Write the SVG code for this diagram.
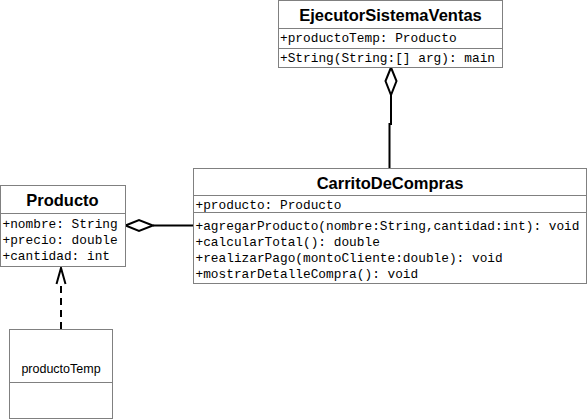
<svg xmlns="http://www.w3.org/2000/svg" width="588" height="420" viewBox="0 0 588 420">
<style>
.box{fill:#fff;stroke:#808080;stroke-width:1}
.sep{stroke:#808080;stroke-width:1}
.title{font-family:"Liberation Sans",Arial,sans-serif;font-weight:bold;font-size:16.5px;text-anchor:middle;fill:#000}
.mono{font-family:"Liberation Mono","Courier New",monospace;font-size:12.8px;fill:#000}
.plain{font-family:"Liberation Sans",Arial,sans-serif;font-size:12.5px;text-anchor:middle;fill:#000}
.edge{fill:none;stroke:#000;stroke-width:2}
</style>
<rect width="588" height="420" fill="#fff"/>
<g id="connectors">
  <path class="edge" d="M391,95 V124 H389.5 V168"/>
  <path class="edge" d="M391,67.5 L385.5,81 L391,95 L396.5,81 Z"/>
  <path class="edge" d="M153,225.5 H193"/>
  <path class="edge" d="M125.5,225.5 L139,220 L153,225.5 L139,231 Z"/>
  <path class="edge" d="M61,329 V285" stroke-dasharray="7,5"/>
  <path class="edge" d="M56.5,284 L61,268 L65.5,284"/>
</g>
<g id="EjecutorSistemaVentas">
  <rect class="box" x="278.5" y="0.5" width="224" height="67"/>
  <line class="sep" x1="278.5" y1="28.5" x2="502.5" y2="28.5"/>
  <line class="sep" x1="278.5" y1="48.5" x2="502.5" y2="48.5"/>
  <text class="title" x="390.5" y="21">EjecutorSistemaVentas</text>
  <text class="mono" x="280" y="42">+productoTemp: Producto</text>
  <text class="mono" x="280" y="62">+String(String:[] arg): main</text>
</g>
<g id="CarritoDeCompras">
  <rect class="box" x="193.5" y="168.5" width="393" height="115"/>
  <line class="sep" x1="193.5" y1="195.5" x2="586.5" y2="195.5"/>
  <line class="sep" x1="193.5" y1="212.5" x2="586.5" y2="212.5"/>
  <text class="title" x="390" y="189">CarritoDeCompras</text>
  <text class="mono" x="195.5" y="209">+producto: Producto</text>
  <text class="mono" x="195.5" y="230">+agregarProducto(nombre:String,cantidad:int): void</text>
  <text class="mono" x="195.5" y="246">+calcularTotal(): double</text>
  <text class="mono" x="195.5" y="262">+realizarPago(montoCliente:double): void</text>
  <text class="mono" x="195.5" y="278">+mostrarDetalleCompra(): void</text>
</g>
<g id="Producto">
  <rect class="box" x="0.5" y="185.5" width="125" height="81"/>
  <line class="sep" x1="0.5" y1="213.5" x2="125.5" y2="213.5"/>
  <text class="title" x="62.5" y="206">Producto</text>
  <text class="mono" x="2.5" y="228">+nombre: String</text>
  <text class="mono" x="2.5" y="244">+precio: double</text>
  <text class="mono" x="2.5" y="260">+cantidad: int</text>
</g>
<g id="productoTemp">
  <rect class="box" x="9.5" y="329.5" width="103" height="89"/>
  <line class="sep" x1="9.5" y1="382.5" x2="112.5" y2="382.5"/>
  <text class="plain" x="61" y="372.5">productoTemp</text>
</g>
</svg>
